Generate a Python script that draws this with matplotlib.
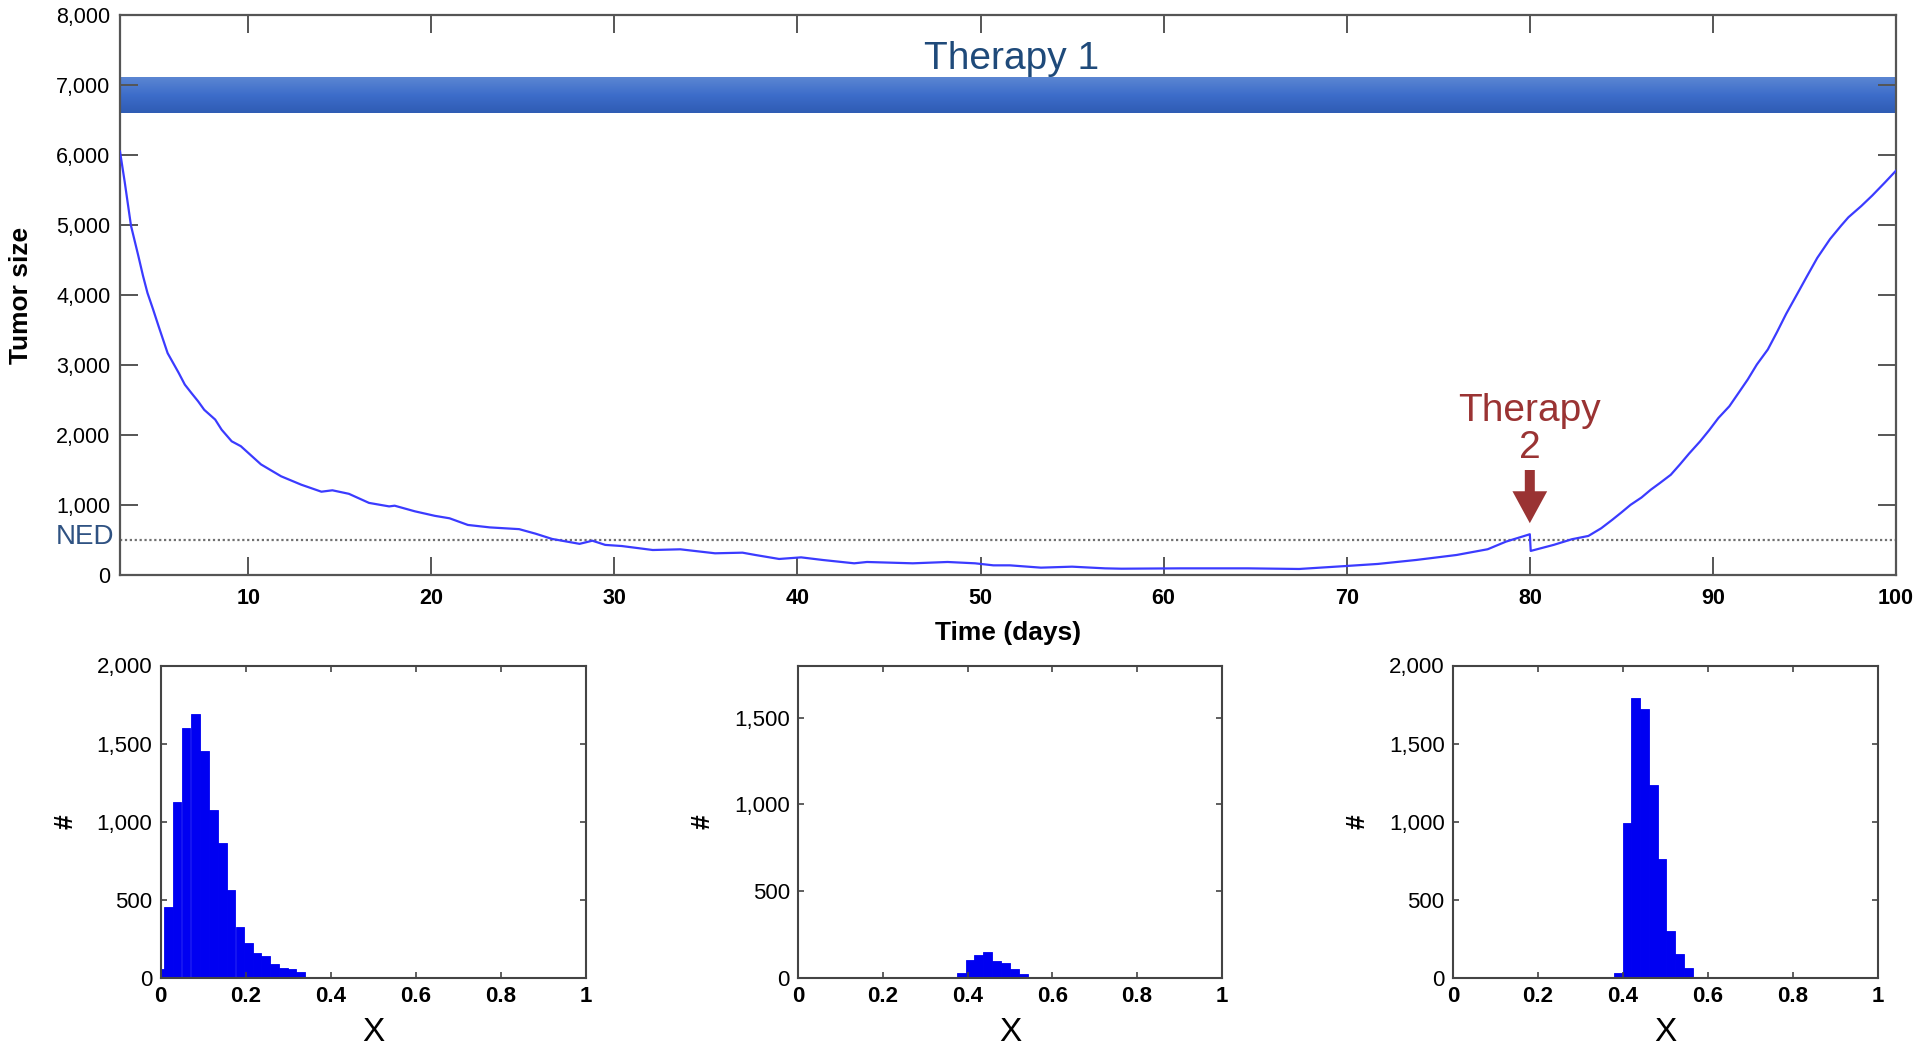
import numpy as np
import matplotlib
matplotlib.use("Agg")
import matplotlib.pyplot as plt
from matplotlib.colors import LinearSegmentedColormap

plt.rcParams['font.family'] = ['Liberation Sans', 'DejaVu Sans']

# ---------------- data ----------------
time_days = [3.0, 3.26, 3.6, 4.0, 4.26, 4.5, 4.8, 5.1, 5.35, 5.6, 6.2, 6.54, 6.9, 7.27, 7.6,
             8.2, 8.55, 9.1, 9.6, 10.7, 11.8, 12.9,
             14.0, 14.6, 15.5, 16.6, 17.7, 18.0, 19.1, 20.2, 21.0, 22.0, 23.2, 24.8, 25.7,
             26.6, 28.1, 28.8, 29.5, 30.4, 32.1, 33.6, 35.5, 37.0, 37.7, 39.0, 40.2, 41.4,
             43.1, 43.8, 46.3, 48.2, 49.7, 50.7, 51.6, 53.3, 55.0, 56.8, 57.7, 60.9, 64.6,
             67.4, 70.0, 71.7, 73.8, 76.0, 77.7, 78.7, 80.0, 80.05, 81.3, 82.3, 83.2, 83.9,
             84.5, 85.0, 85.5, 86.1, 86.6, 87.1, 87.7, 88.2, 88.7, 89.3, 89.8, 90.3, 90.9,
             91.4, 91.9, 92.4, 93.0, 93.5, 94.0, 94.7, 95.1, 95.7, 96.4, 97.0, 97.4, 98.1,
             98.7, 99.4, 100.0]
tumor_size = [6050, 5610, 4990, 4560, 4270, 4030, 3800, 3560, 3365, 3170, 2890, 2720, 2600,
              2480, 2360, 2220, 2076, 1910, 1840, 1580,
              1410, 1290, 1190, 1210, 1160, 1030, 980, 990, 910, 845, 810, 715, 680, 655, 590,
              515, 445, 490, 430, 414, 357, 367, 310, 319, 286, 229, 252, 214, 167, 186, 167,
              186, 167, 138, 138, 105, 119, 95, 90, 95, 95, 86, 129, 158, 215, 286, 368, 477,
              582, 344, 430, 511, 558, 668, 788, 893, 1002, 1107, 1217, 1313, 1432, 1580,
              1735, 1909, 2070, 2243, 2411, 2601, 2792, 3007, 3222, 3470, 3730, 4060, 4250,
              4530, 4800, 4990, 5110, 5270, 5420, 5609, 5776]

ned_level = 500
therapy1_range = (3.0, 99.9)
therapy1_band = (6600, 7110)
therapy2_day = 80

x_ticks_main = [10, 20, 30, 40, 50, 60, 70, 80, 90, 100]
y_ticks_main = [0, 1000, 2000, 3000, 4000, 5000, 6000, 7000, 8000]
y_ticklabels_main = ['0', '1,000', '2,000', '3,000', '4,000', '5,000', '6,000', '7,000', '8,000']

# histograms: bin left edges, bin width, counts
hist1_left = [-0.013, 0.008, 0.028, 0.049, 0.071, 0.092, 0.114, 0.135, 0.155, 0.176, 0.196,
              0.216, 0.237, 0.257, 0.278, 0.298, 0.318, 0.340]
hist1_width = 0.0205
hist1_counts = [54, 450, 1127, 1601, 1691, 1451, 1077, 865, 560, 324, 225, 161, 142, 88, 60,
                54, 39, 6]

hist2_left = [0.030, 0.051, 0.072, 0.093, 0.114, 0.332, 0.353, 0.374, 0.395, 0.416, 0.437,
              0.458, 0.479, 0.500, 0.521]
hist2_width = 0.0212
hist2_counts = [2, 3, 3, 4, 3, 1, 3, 29, 102, 133, 150, 96, 87, 48, 19]

hist3_left = [0.378, 0.399, 0.419, 0.440, 0.461, 0.481, 0.502, 0.522, 0.543]
hist3_width = 0.0207
hist3_counts = [28, 989, 1794, 1723, 1234, 762, 300, 150, 60]

hist_x_ticks = [0, 0.2, 0.4, 0.6, 0.8, 1]
hist_x_ticklabels = ['0', '0.2', '0.4', '0.6', '0.8', '1']
hist_y_ticks = [0, 500, 1000, 1500, 2000]
hist_y_ticklabels = ['0', '500', '1,000', '1,500', '2,000']
hist_ylims = [2000, 1800, 2000]

# ---------------- figure ----------------
W, H = 1920, 1051
fig = plt.figure(figsize=(W / 100, H / 100), dpi=100)

spine_col = '#555555'
ax = fig.add_axes([120 / W, 1 - 575 / H, 1776 / W, 560 / H])

# therapy 1 gradient band
grad_cmap = LinearSegmentedColormap.from_list('g', ['#5b86d2', '#3d6dca', '#2f5cb4'])
grad = np.linspace(0, 1, 64).reshape(-1, 1)
ax.imshow(grad, cmap=grad_cmap, aspect='auto', origin='upper',
          extent=[therapy1_range[0], therapy1_range[1], therapy1_band[0], therapy1_band[1]],
          zorder=1, interpolation='bilinear')
ax.text(51.7, 7370, 'Therapy 1', color='#1f4a7a', fontsize=28, ha='center', va='center')

# NED line
ax.axhline(ned_level, color='#707070', lw=1.6, ls=(0, (1, 1.2)), zorder=2)
ax.text(2.7, ned_level + 40, 'NED', color='#2f5282', fontsize=20, ha='right', va='center',
        clip_on=False)

# tumour curve
ax.plot(time_days, tumor_size, color='#3b3bff', lw=1.6, zorder=3)

# therapy 2 annotation
ax.text(therapy2_day, 2080, 'Therapy\n2', color='#9a3333', fontsize=28, ha='center',
        va='center', linespacing=1.02)
ax.annotate('', xy=(therapy2_day, 740), xytext=(therapy2_day, 1500),
            arrowprops=dict(arrowstyle='simple,head_length=1.15,head_width=1.25,tail_width=0.36',
                            mutation_scale=20, color='#9a3333', lw=0, shrinkA=0, shrinkB=0))

ax.set_xlim(3, 100)
ax.set_ylim(0, 8000)
ax.set_xticks(x_ticks_main)
ax.set_xticklabels([str(t) for t in x_ticks_main], fontweight='bold')
ax.set_yticks(y_ticks_main)
ax.set_yticklabels(y_ticklabels_main)
ax.tick_params(direction='in', length=13, width=1.4, color=spine_col, top=True, right=True,
               labelsize=15.5, pad=7)
ax.tick_params(axis='x', pad=9)
for s in ax.spines.values():
    s.set_color(spine_col)
    s.set_linewidth(1.6)
ax.set_xlabel('Time (days)', fontsize=19, fontweight='bold', labelpad=9)
ax.set_ylabel('Tumor size', fontsize=19, fontweight='bold')
ax.yaxis.set_label_coords(-0.049, 0.5)

# histograms
hist_boxes = [(160.7, 585.7), (798.3, 1221.7), (1453.0, 1878.0)]
hist_data = [(hist1_left, hist1_width, hist1_counts),
             (hist2_left, hist2_width, hist2_counts),
             (hist3_left, hist3_width, hist3_counts)]
for i, ((x0, x1), (lefts, wdt, cnts)) in enumerate(zip(hist_boxes, hist_data)):
    hx = fig.add_axes([x0 / W, 1 - 977.7 / H, (x1 - x0) / W, (977.7 - 665.5) / H])
    hx.bar(lefts, cnts, width=wdt, align='edge', color='#0000f2', edgecolor='#0000f2',
           linewidth=0.6)
    hx.set_xlim(0, 1)
    hx.set_ylim(0, hist_ylims[i])
    hx.set_xticks(hist_x_ticks)
    hx.set_xticklabels(hist_x_ticklabels, fontweight='bold')
    yt = [t for t in hist_y_ticks if t <= hist_ylims[i]]
    hx.set_yticks(yt)
    hx.set_yticklabels(hist_y_ticklabels[:len(yt)])
    hx.tick_params(direction='in', length=4, width=1.2, color='#444444', top=True, right=True,
                   labelsize=16, pad=6)
    for s in hx.spines.values():
        s.set_color('#444444')
        s.set_linewidth(1.5)
    hx.set_xlabel('X', fontsize=24, labelpad=7)
    hx.set_ylabel('#', fontsize=19, fontweight='bold', labelpad=14)

fig.savefig('out.png', dpi=100, facecolor='white')
